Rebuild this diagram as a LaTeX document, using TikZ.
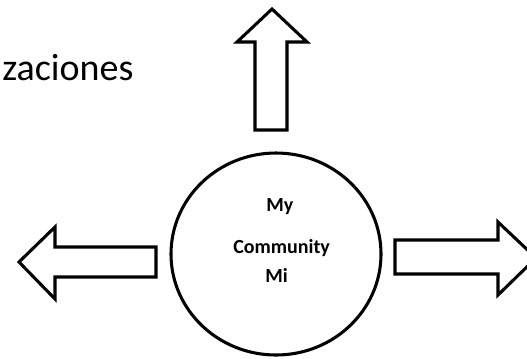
\documentclass[tikz,border=0pt]{standalone}
\usepackage{fontspec}
\setmainfont{Carlito}
\begin{document}
\begin{tikzpicture}[x=0.75pt, y=-0.75pt,
    blockarrow/.style={draw, line width=2.3pt, line join=miter, miter limit=10},
    ring/.style={draw, line width=2.3pt},
    inlabel/.style={anchor=base west, inner sep=0pt, font=\bfseries\fontsize{15}{18}\selectfont}]
                \useasboundingbox (0,0) rectangle (527,358);
                \clip (0,0) rectangle (527,358);
                \node[anchor=base west, inner sep=0pt, font=\fontsize{28.5}{34}\selectfont] (title) at (2,80) {zaciones};
                % up arrow
                \draw[blockarrow] (272,9) -- (307,42) -- (287,42) -- (287,130) -- (255,130) -- (255,42) -- (237,42) -- cycle;
                % left arrow
                \draw[blockarrow] (19,262) -- (55,227) -- (55,247) -- (156,247) -- (156,277) -- (55,277) -- (55,299) -- cycle;
                % right arrow
                \draw[blockarrow] (536,258) -- (498,222) -- (498,240) -- (395,240) -- (395,274) -- (498,274) -- (498,295) -- cycle;
                % the circle
                \draw[ring] (276,254) ellipse [x radius=105, y radius=101];
                \node[inlabel] (my) at (266,211) {My};
                \node[inlabel] (community) at (233,253) {Community};
                \node[inlabel] (mi) at (265,282) {Mi};
            \end{tikzpicture}
\end{document}
